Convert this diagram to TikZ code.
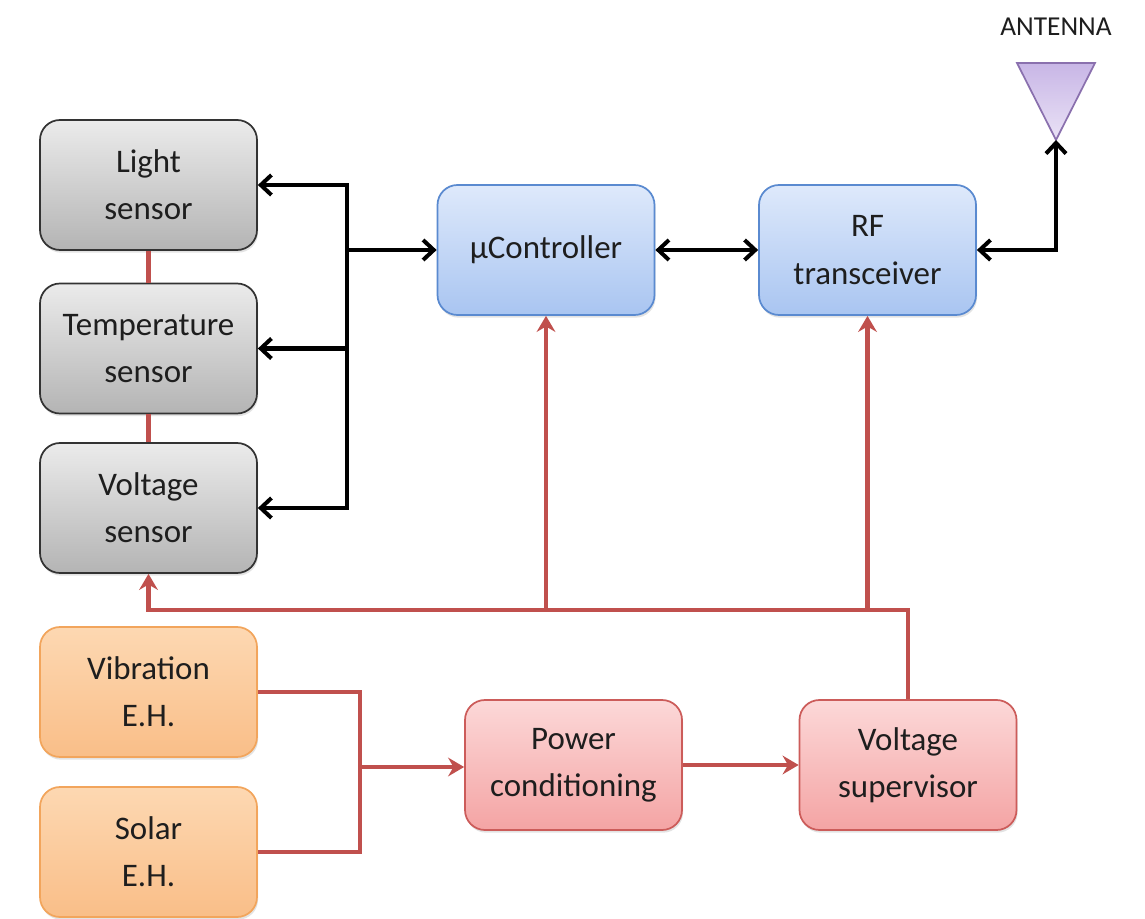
\documentclass[tikz,border=0pt]{standalone}
\usepackage{fontspec}
\setmainfont{Carlito}
\usetikzlibrary{arrows.meta,shadows}
\definecolor{txt}{HTML}{1E1E1E}
\definecolor{redl}{HTML}{C0504D}
\definecolor{grayb}{HTML}{333333}
\definecolor{grayt}{HTML}{EBEBEB}
\definecolor{grayd}{HTML}{B4B4B4}
\definecolor{blueb}{HTML}{5A8AD0}
\definecolor{bluet}{HTML}{DEE9FB}
\definecolor{blued}{HTML}{A9C5F1}
\definecolor{orangeb}{HTML}{F2A55C}
\definecolor{oranget}{HTML}{FDD8B2}
\definecolor{oranged}{HTML}{F9BE88}
\definecolor{pinkb}{HTML}{CC5C5A}
\definecolor{pinkt}{HTML}{FCD8D8}
\definecolor{pinkd}{HTML}{F4A4A4}
\definecolor{antb}{HTML}{8A70AE}
\definecolor{antt}{HTML}{C8B6E6}
\definecolor{antd}{HTML}{EAE2F6}
\tikzset{
  box/.style={rounded corners=15pt, minimum width=162.75pt, minimum height=97.5pt,
    align=center, text=txt, font=\fontsize{24.7}{35.5}\selectfont, line width=1.3pt,
    shading=axis, shading angle=0,
    drop shadow={opacity=0.22, shadow xshift=0.8pt, shadow yshift=-2pt}},
  graybox/.style={box, draw=grayb, top color=grayt, bottom color=grayd},
  bluebox/.style={box, draw=blueb, top color=bluet, bottom color=blued},
  orangebox/.style={box, draw=orangeb, top color=oranget, bottom color=oranged},
  pinkbox/.style={box, draw=pinkb, top color=pinkt, bottom color=pinkd},
  blk/.style={line width=3.4pt, black, line join=miter},
  barb/.tip={Straight Barb[length=8pt, width=15pt, line width=3pt]},
  blkarrow/.style={blk, -barb},
  blkdouble/.style={blk, barb-barb},
  rd/.style={line width=3.2pt, redl},
  rdarrow/.style={rd, -{Stealth[length=12pt, width=14pt, inset=4pt]}},
}
\begin{document}
\begin{tikzpicture}[x=0.75pt, y=-0.75pt]
\useasboundingbox (0,0) rectangle (1145,919);
\fill[white] (0,0) rectangle (1145,919);
% sensors
\node[graybox] (light) at (148.5,185) {Light\\sensor};
\node[graybox] (temp) at (148.5,348.5) {Temperature\\sensor};
\node[graybox] (vsens) at (148.5,508) {Voltage\\sensor};
% harvesters
\node[orangebox] (vib) at (148.5,692) {Vibration\\E.H.};
\node[orangebox] (sol) at (148.5,852) {Solar\\E.H.};
% main blocks
\node[bluebox] (uc) at (546,250) {µController};
\node[bluebox] (rf) at (867.5,250) {RF\\transceiver};
\node[pinkbox] (pc) at (573.5,765) {Power\\conditioning};
\node[pinkbox] (vs) at (908,765) {Voltage\\supervisor};
% antenna
\coordinate (ant) at (1056,140);
\filldraw[draw=antb, line width=1.3pt, top color=antt, bottom color=antd, shading angle=0]
  (1017,63) -- (1095,63) -- (ant) -- cycle;
\node[text=txt, font=\fontsize{20.5}{24}\selectfont] (antlabel) at (1056,27) {ANTENNA};
% black bus
\coordinate (bus) at (347,250);
\draw[blkarrow] (bus) |- (light.east);
\draw[blkarrow] (bus) |- (temp.east);
\draw[blkarrow] (bus) |- (vsens.east);
\draw[blkarrow] (bus) -- (uc.west);
\draw[blkdouble] (uc.east) -- (rf.west);
\draw[blkdouble] (rf.east) -| (ant);
% red links between sensors
\draw[rd] (light.south) -- (temp.north);
\draw[rd] (temp.south) -- (vsens.north);
% power rail
\coordinate (rail) at (0,610);
\draw[rdarrow] (vs.north) -- (vs.north |- rail) -| (vsens.south);
\draw[rdarrow] (uc.south |- rail) -- (uc.south);
\draw[rdarrow] (rf.south |- rail) -- (rf.south);
% harvesters to power conditioning
\coordinate (j) at (360,767);
\draw[rd] (vib.east) -| (j);
\draw[rd] (sol.east) -| (j);
\draw[rdarrow] (j) -- (pc.west |- j);
\draw[rdarrow] (pc.east) -- (vs.west);
\end{tikzpicture}
\end{document}
